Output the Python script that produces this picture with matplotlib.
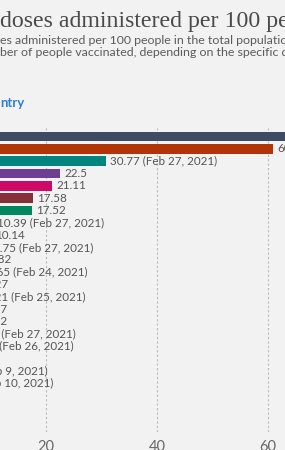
import matplotlib.pyplot as plt

# 数据
countries = ['Israel', 'Seychelles', 'United Kingdom', 'United States', 'Bahrain', 'Chile',
             'Serbia', 'Malta', 'Maldives', 'Iceland', 'Denmark', 'Hungary', 'Lithuania',
             'Slovenia', 'Estonia', 'Spain', 'Italy', 'Poland', 'Germany', 'Portugal', 'Turkey']
doses = [92.39, 60.91, 30.77, 22.5, 21.11, 17.58, 17.52, 10.39, 10.14, 9.75, 8.82, 8.65,
         8.27, 8.21, 8.17, 8.12, 7.8, 7.3, 6.9, 2.62, 2.57]
dates = ['', '', 'Feb 27, 2021', '', '', '', '', 'Feb 27, 2021', '', 'Feb 27, 2021', '',
         'Feb 24, 2021', '', 'Feb 25, 2021', '', '', 'Feb 27, 2021', 'Feb 26, 2021', '',
         'Feb 9, 2021', 'Feb 10, 2021']
colors = ['#3d4b63', '#b13507', '#00847e', '#6d3e91', '#cf0a66', '#883039', '#00875e',
          '#4c6a9c', '#c05917', '#58ac8c', '#286bbb', '#bc8e5a', '#00295b', '#c15065',
          '#18470f', '#9a5129', '#e56e5a', '#a2559c', '#38aaba', '#578145', '#970046']
xticks = [0, 20, 40, 60, 80]

bg = '#f2f2f2'
W, H = 285, 450

fig = plt.figure(figsize=(W / 100, H / 100), dpi=100, facecolor=bg)

# 标题 (左侧被裁掉)
fig.text(0, 1 - 27 / H, 'COVID-19 vaccine ', ha='right', va='baseline',
         family='Liberation Serif', fontsize=17.2, color='#4a4a4a')
fig.text(0, 1 - 27 / H, 'doses administered per 100 people', ha='left', va='baseline',
         family='Liberation Serif', fontsize=17.2, color='#4a4a4a')

sub1 = ('Total number of vaccination dos',
        'es administered per 100 people in the total population. This is counted as a single dose, and')
sub2 = ('may not equal the total num',
        'ber of people vaccinated, depending on the specific dose regime (e.g. people receive multiple doses).')
for (a, b), yb in [(sub1, 43.5), (sub2, 55.5)]:
    fig.text(0, 1 - yb / H, a, ha='right', va='baseline', family='Lato', fontsize=8.9, color='#5b5b5b')
    fig.text(0, 1 - yb / H, b, ha='left', va='baseline', family='Lato', fontsize=8.9, color='#5b5b5b')

fig.text(0, 1 - 107 / H, '+ Add cou', ha='right', va='baseline', family='Lato',
         fontsize=9.5, fontweight='bold', color='#2f7ed8')
fig.text(0, 1 - 107 / H, 'ntry', ha='left', va='baseline', family='Lato',
         fontsize=9.5, fontweight='bold', color='#2f7ed8')

# 图表区域 (0 在画布左侧之外)
px_per_unit = 5.55
x0 = -65
top, bottom = 128, 432
row_h = 12.33
first_row = 136.5
ax = fig.add_axes([x0 / W, 1 - bottom / H, (xticks[-1] * px_per_unit) / W, (bottom - top) / H])
ax.set_facecolor(bg)

rows = list(range(len(doses)))
ax.barh(rows, doses, height=0.76, color=colors, zorder=2)
for i, (v, d) in enumerate(zip(doses, dates)):
    label = f'{v:g}' if not d else f'{v:g} ({d})'
    ax.annotate(label, (v, i), xytext=(3, 0), textcoords='offset points', va='center',
                family='Lato', fontsize=8.4, color='#555555')

ax.set_xlim(xticks[0], xticks[-1])
ax.set_ylim((bottom - first_row) / row_h, (top - first_row) / row_h)
ax.set_xticks(xticks)
ax.set_yticks(rows)
ax.set_yticklabels(countries, family='Lato', fontsize=8.4, color='#555555')
ax.tick_params(axis='both', length=0)
ax.tick_params(axis='x', pad=6, labelsize=10.5, labelcolor='#666666')
for lab in ax.get_xticklabels():
    lab.set_family('Lato')
ax.grid(axis='x', color='#bbbbbb', linestyle=(0, (2, 2)), linewidth=0.8)
ax.set_axisbelow(True)
for s in ax.spines.values():
    s.set_visible(False)

fig.savefig('out.png', dpi=100, facecolor=bg)
